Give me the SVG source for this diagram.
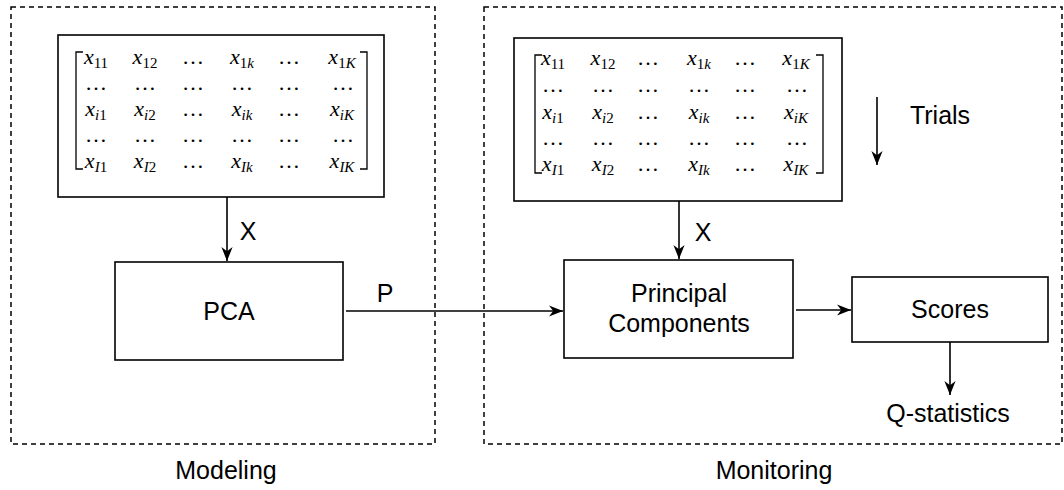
<svg xmlns="http://www.w3.org/2000/svg" width="1064" height="490" viewBox="0 0 1064 490">
  <style>
    .frame { fill: none; stroke: #000; stroke-width: 1.5; stroke-dasharray: 5 4; }
    .box { fill: #fff; stroke: #000; stroke-width: 1.6; }
    .edge { fill: none; stroke: #000; stroke-width: 1.6; }
    .lbl { font-family: "Liberation Sans", Arial, sans-serif; font-size: 25px; fill: #000; text-anchor: middle; }
    .m { font-family: "Liberation Serif", "Times New Roman", serif; font-size: 22px; fill: #000; text-anchor: middle; }
    .v { font-style: italic; }
    .s { font-size: 15px; }
    .si { font-size: 15px; font-style: italic; }
    .br { fill: none; stroke: #000; stroke-width: 1.3; }
  </style>
  <defs>
    <marker id="arrow" viewBox="0 0 10 10" refX="10" refY="5" markerWidth="14" markerHeight="14" markerUnits="userSpaceOnUse" orient="auto">
      <path d="M0,1 L10,5 L0,9 L3,5 Z" fill="#000"/>
    </marker>
  </defs>

  <rect width="1064" height="490" fill="#fff"/>

  <!-- dashed regions -->
  <g id="modeling-region">
    <rect class="frame" x="11" y="7" width="424" height="437"/>
    <text class="lbl" x="226" y="479">Modeling</text>
  </g>
  <g id="monitoring-region">
    <rect class="frame" x="484" y="7" width="578" height="437"/>
    <text class="lbl" x="774" y="479">Monitoring</text>
  </g>

  <!-- connectors -->
  <g id="connectors">
    <line class="edge" x1="227" y1="197" x2="227" y2="261" marker-end="url(#arrow)"/>
    <text class="lbl" x="248" y="240">X</text>
    <line class="edge" x1="346" y1="311" x2="563" y2="311" marker-end="url(#arrow)"/>
    <text class="lbl" x="385" y="302">P</text>
    <line class="edge" x1="679" y1="201" x2="679" y2="259" marker-end="url(#arrow)"/>
    <text class="lbl" x="703" y="241">X</text>
    <line class="edge" x1="796" y1="310" x2="851" y2="310" marker-end="url(#arrow)"/>
    <line class="edge" x1="950" y1="342" x2="950" y2="395" marker-end="url(#arrow)"/>
    <line class="edge" x1="877" y1="97" x2="877" y2="165" marker-end="url(#arrow)"/>
  </g>

  <!-- training data matrix -->
  <g id="matrix-train">
    <rect class="box" x="58" y="35" width="326" height="162"/>
    <path class="br" d="M83,52 H76 V169 H83"/>
    <path class="br" d="M360,52 H367 V169 H360"/>
    <g class="m">
      <text x="96" y="64"><tspan class="v">x</tspan><tspan class="s" dy="4">11</tspan></text>
      <text x="145" y="64"><tspan class="v">x</tspan><tspan class="s" dy="4">12</tspan></text>
      <text x="193" y="64">…</text>
      <text x="242" y="64"><tspan class="v">x</tspan><tspan class="s" dy="4">1</tspan><tspan class="si">k</tspan></text>
      <text x="289" y="64">…</text>
      <text x="342" y="64"><tspan class="v">x</tspan><tspan class="s" dy="4">1</tspan><tspan class="si">K</tspan></text>

      <text x="96" y="90">…</text>
      <text x="145" y="90">…</text>
      <text x="193" y="90">…</text>
      <text x="242" y="90">…</text>
      <text x="289" y="90">…</text>
      <text x="343" y="90">…</text>

      <text x="96" y="116"><tspan class="v">x</tspan><tspan class="si" dy="4">i</tspan><tspan class="s">1</tspan></text>
      <text x="145" y="116"><tspan class="v">x</tspan><tspan class="si" dy="4">i</tspan><tspan class="s">2</tspan></text>
      <text x="193" y="116">…</text>
      <text x="242" y="116"><tspan class="v">x</tspan><tspan class="si" dy="4">ik</tspan></text>
      <text x="289" y="116">…</text>
      <text x="342" y="116"><tspan class="v">x</tspan><tspan class="si" dy="4">iK</tspan></text>

      <text x="96" y="142">…</text>
      <text x="145" y="142">…</text>
      <text x="193" y="142">…</text>
      <text x="242" y="142">…</text>
      <text x="289" y="142">…</text>
      <text x="343" y="142">…</text>

      <text x="96" y="168"><tspan class="v">x</tspan><tspan class="si" dy="4">I</tspan><tspan class="s">1</tspan></text>
      <text x="145" y="168"><tspan class="v">x</tspan><tspan class="si" dy="4">I</tspan><tspan class="s">2</tspan></text>
      <text x="193" y="168">…</text>
      <text x="242" y="168"><tspan class="v">x</tspan><tspan class="si" dy="4">Ik</tspan></text>
      <text x="289" y="168">…</text>
      <text x="342" y="168"><tspan class="v">x</tspan><tspan class="si" dy="4">IK</tspan></text>
    </g>
  </g>

  <!-- PCA -->
  <g id="pca">
    <rect class="box" x="115" y="262" width="228" height="98"/>
    <text class="lbl" x="229" y="320">PCA</text>
  </g>

  <!-- monitoring data matrix -->
  <g id="matrix-monitor">
    <rect class="box" x="514" y="38" width="328" height="163"/>
    <path class="br" d="M542,55 H535 V173 H542"/>
    <path class="br" d="M816,55 H823 V173 H816"/>
    <g class="m">
      <text x="553" y="65"><tspan class="v">x</tspan><tspan class="s" dy="4">11</tspan></text>
      <text x="603" y="65"><tspan class="v">x</tspan><tspan class="s" dy="4">12</tspan></text>
      <text x="648" y="65">…</text>
      <text x="699" y="65"><tspan class="v">x</tspan><tspan class="s" dy="4">1</tspan><tspan class="si">k</tspan></text>
      <text x="745" y="65">…</text>
      <text x="796" y="65"><tspan class="v">x</tspan><tspan class="s" dy="4">1</tspan><tspan class="si">K</tspan></text>

      <text x="553" y="92">…</text>
      <text x="603" y="92">…</text>
      <text x="648" y="92">…</text>
      <text x="699" y="92">…</text>
      <text x="745" y="92">…</text>
      <text x="797" y="92">…</text>

      <text x="553" y="119"><tspan class="v">x</tspan><tspan class="si" dy="4">i</tspan><tspan class="s">1</tspan></text>
      <text x="603" y="119"><tspan class="v">x</tspan><tspan class="si" dy="4">i</tspan><tspan class="s">2</tspan></text>
      <text x="648" y="119">…</text>
      <text x="699" y="119"><tspan class="v">x</tspan><tspan class="si" dy="4">ik</tspan></text>
      <text x="745" y="119">…</text>
      <text x="796" y="119"><tspan class="v">x</tspan><tspan class="si" dy="4">iK</tspan></text>

      <text x="553" y="145">…</text>
      <text x="603" y="145">…</text>
      <text x="648" y="145">…</text>
      <text x="699" y="145">…</text>
      <text x="745" y="145">…</text>
      <text x="797" y="145">…</text>

      <text x="553" y="171"><tspan class="v">x</tspan><tspan class="si" dy="4">I</tspan><tspan class="s">1</tspan></text>
      <text x="603" y="171"><tspan class="v">x</tspan><tspan class="si" dy="4">I</tspan><tspan class="s">2</tspan></text>
      <text x="648" y="171">…</text>
      <text x="699" y="171"><tspan class="v">x</tspan><tspan class="si" dy="4">Ik</tspan></text>
      <text x="745" y="171">…</text>
      <text x="796" y="171"><tspan class="v">x</tspan><tspan class="si" dy="4">IK</tspan></text>
    </g>
  </g>

  <g id="trials-label">
    <text class="lbl" x="940" y="124">Trials</text>
  </g>

  <!-- Principal Components -->
  <g id="principal-components">
    <rect class="box" x="564" y="260" width="229" height="98"/>
    <text class="lbl" x="679" y="302">Principal</text>
    <text class="lbl" x="679" y="332">Components</text>
  </g>

  <!-- Scores -->
  <g id="scores">
    <rect class="box" x="852" y="277" width="196" height="65"/>
    <text class="lbl" x="950" y="318">Scores</text>
  </g>

  <g id="q-statistics">
    <text class="lbl" x="948" y="422">Q-statistics</text>
  </g>
</svg>
